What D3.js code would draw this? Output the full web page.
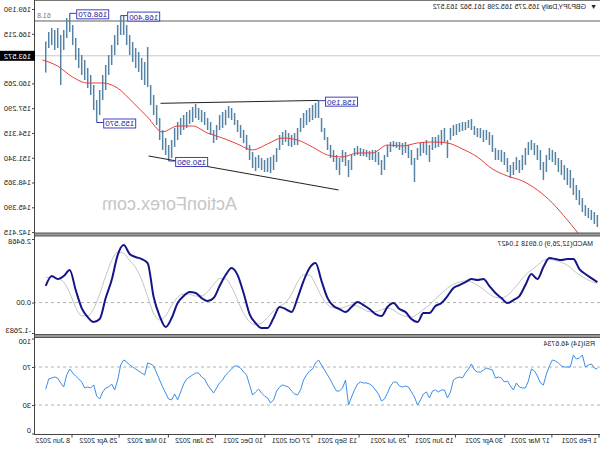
<!DOCTYPE html>
<html><head><meta charset="utf-8">
<script src="https://cdn.jsdelivr.net/npm/d3@7"></script>
<style>html,body{margin:0;padding:0;background:#fff;} svg{display:block;font-family:"Liberation Sans",Arial,sans-serif;}</style>
</head><body>
<svg id="chart" width="600" height="450"></svg>
<script>
// ---------- DATA (oldest first) ----------
const barStart = "2021-02-03", barEnd = "2022-07-03";
const priceHigh = [144.47,144.83,145.07,145.31,145.67,146.51,147.47,148.07,148.91,149.87,150.11,150.47,151.07,151.31,152.03,152.27,152.51,151.67,150.83,152.27,152.87,153.11,153.47,153.23,152.51,151.67,151.07,151.43,150.83,150.47,151.31,152.03,152.27,152.27,152.51,154.07,154.43,154.67,154.67,154.91,154.91,155.15,155.99,155.87,155.63,155.63,155.51,155.39,155.27,154.91,153.47,154.91,154.67,154.07,153.83,153.83,152.87,153.47,153.23,153.11,152.51,151.31,152.27,152.87,153.23,153.11,
153.23,153.23,153.35,153.23,152.87,151.67,151.07,152.03,152.27,152.27,152.15,152.27,152.39,152.51,152.75,152.51,151.67,151.07,152.03,152.27,151.31,151.67,152.27,152.87,153.83,154.91,156.11,158.19,157.91,157.67,157.31,157.07,156.71,156.11,154.91,154.31,154.07,154.31,154.67,154.43,154.07,152.51,151.67,151.43,151.31,151.07,151.31,151.67,151.43,152.03,152.87,154.07,154.67,155.27,155.87,156.71,157.31,157.55,157.07,156.83,156.47,155.27,154.67,155.63,156.11,156.83,157.07,
157.31,157.79,157.43,157.07,156.83,156.47,156.11,155.63,154.91,153.47,152.87,153.71,154.67,156.11,157.67,158.87,160.07,
164.63,162.83,163.31,164.03,164.51,165.23,166.07,167.27,168.35,168.40,167.27,166.07,164.87,163.67,162.47,161.27,159.47,158.27,160.07,161.27,162.11,163.07,163.67,164.51,165.71,167.27,168.67,168.11,166.67,166.07,166.91,166.67,166.91,166.43,165.30];
const priceLow = [143.03,143.39,143.87,144.11,144.35,144.83,145.67,146.27,146.87,147.71,148.07,148.67,149.27,149.63,150.47,150.83,151.07,149.63,148.67,149.87,151.07,151.67,152.27,151.67,150.47,149.87,149.51,149.87,149.27,148.91,149.63,150.47,150.83,151.07,151.07,152.03,152.87,153.47,153.23,153.71,153.83,154.07,154.67,154.91,154.67,154.55,154.43,154.07,153.95,153.47,151.31,153.23,152.87,152.63,152.51,152.27,150.83,151.67,151.91,151.55,151.07,148.43,150.47,151.31,151.91,151.67,
152.27,152.51,152.63,152.03,151.43,149.87,149.27,150.47,150.83,151.07,151.07,151.43,151.55,151.55,151.67,151.55,149.87,149.03,150.35,150.83,149.27,149.87,150.83,151.31,152.27,153.47,154.43,156.11,156.11,155.87,155.63,155.27,154.91,154.43,152.87,152.87,152.63,152.75,153.23,152.87,152.27,150.83,149.87,149.51,149.63,149.63,149.87,150.11,149.75,150.11,151.07,152.27,153.11,153.71,154.43,155.27,155.87,156.11,155.27,154.91,154.67,153.47,153.11,154.07,154.67,155.27,155.63,
155.87,156.11,155.63,155.39,154.91,154.67,154.07,153.47,152.63,151.31,150.95,151.67,152.27,153.47,155.27,156.47,157.67,
159.83,160.07,160.67,161.63,162.11,162.83,163.67,164.87,166.07,166.07,164.87,163.67,162.47,161.27,159.47,158.27,156.47,155.57,157.07,158.87,159.71,160.67,161.27,162.11,163.07,164.87,166.43,165.71,164.27,160.07,164.51,164.27,164.87,164.51,161.56];
const maStart = "2021-02-03", maEnd = "2022-07-06";
const maValues = [140.03,141.71,143.87,145.91,147.47,148.55,149.15,149.99,151.43,152.39,153.11,153.23,153.11,152.75,152.87,151.91,151.91,151.43,151.67,152.63,153.47,153.71,152.99,152.27,152.99,153.71,154.31,155.15,155.15,154.43,156.23,158.03,159.71,160.31,160.31,161.03,162.35,163.07];
const indStart = "2021-02-03", indEnd = "2022-07-03";
const macdMain = [0.854,1.020,1.187,1.395,1.812,1.812,1.770,1.812,1.853,1.479,0.979,1.187,0.729,0.271,0.104,-0.021,0.187,0.396,0.687,0.979,0.937,0.979,0.854,0.729,0.604,0.271,-0.021,-0.146,-0.437,-0.437,-0.812,-0.687,-0.396,-0.271,-0.021,-0.187,-0.562,-0.479,-0.271,-0.104,0.021,-0.187,-0.396,-0.271,-0.146,0.187,0.895,1.645,1.437,0.895,0.187,-0.396,-0.271,-0.187,-0.646,-1.062,-1.062,-0.854,-0.479,0.396,1.145,1.437,1.145,0.687,0.187,0.062,0.187,0.396,0.437,0.271,-0.021,-0.646,-1.020,-0.562,0.229,1.645,1.812,1.895,2.020,2.395,1.978,0.937,0.187,-0.687,-0.812,-0.604,-0.229,0.521,1.354,1.104,0.979,1.104,0.692];
const macdSignal = [0.80,0.88,1.00,1.15,1.35,1.55,1.68,1.75,1.80,1.75,1.55,1.35,1.15,0.85,0.55,0.30,0.20,0.22,0.35,0.55,0.72,0.85,0.90,0.85,0.76,0.60,0.38,0.15,-0.10,-0.28,-0.48,-0.60,-0.58,-0.48,-0.32,-0.24,-0.30,-0.38,-0.38,-0.28,-0.15,-0.10,-0.18,-0.24,-0.22,-0.08,0.25,0.75,1.15,1.15,0.85,0.35,0.00,-0.15,-0.35,-0.62,-0.85,-0.92,-0.80,-0.45,0.10,0.65,0.98,1.00,0.75,0.45,0.28,0.27,0.34,0.36,0.22,-0.12,-0.55,-0.72,-0.45,0.25,0.95,1.45,1.75,2.05,2.10,1.75,1.10,0.35,-0.25,-0.55,-0.55,-0.20,0.40,0.85,1.00,1.05,1.04];
const rsiValues = [67.9,68.9,73.2,72.1,70.0,82.6,79.5,78.4,82.6,70.0,70.0,70.0,71.1,74.2,76.3,77.4,71.1,62.6,51.1,53.2,60.5,65.8,67.9,55.3,47.9,47.9,48.9,53.2,45.8,50.0,55.3,54.2,58.4,59.5,58.4,66.8,67.9,68.9,66.8,64.7,64.7,66.8,73.2,67.9,63.7,58.4,59.5,58.4,56.3,43.7,37.4,45.8,45.8,43.7,45.8,44.7,37.4,43.7,41.6,35.3,30.0,38.4,43.7,48.9,50.0,48.9,50.0,54.2,54.2,50.0,42.6,36.3,34.2,41.6,45.8,50.0,52.1,53.2,53.2,54.2,52.1,45.8,38.4,30.0,56.3,47.9,44.7,44.7,50.0,56.3,61.6,66.8,72.1,77.4,74.2,67.9,65.8,61.6,56.3,45.8,40.5,41.6,44.7,48.9,50.0,51.1,48.9,44.7,35.3,32.1,37.4,39.5,42.6,46.8,43.7,40.5,51.1,61.6,64.7,68.9,71.1,71.1,67.9,64.7,61.6,56.3,53.2,47.9,42.6,46.8,51.1,57.4,59.5,63.7,63.7,61.6,59.5,57.4,52.1,43.7,35.3,41.6,35.3,36.3,42.6,48.9,56.3,63.7,71.1,73.2,74.2,61.6,63.7,65.8,67.9,70.0,72.1,75.3,77.4,72.1,56.3,45.8,52.1,48.9,47.9,43.7,36.3,39.5,51.1,47.9,48.9,47.9,54.2,57.4,60.5,63.7,67.9,61.6,48.9,53.2,58.4,59.5,58.4,57.4,46.7];

const priceTicks = [142.415,145.390,148.365,151.340,154.315,157.290,160.265,166.215,169.190];
const currentPrice = 163.572;
const fibLevel = 167.75, fibText = "61.8";
const macdTicks = [-1.2683, 0, 2.6468], macdTickLabels = ["-1.2683","0.00","2.6468"];
const rsiTicks = [0,30,70,100];
const dateTicks = ["2021-02-01","2021-03-17","2021-04-30","2021-06-15","2021-07-29","2021-09-13","2021-10-27","2021-12-10","2022-01-25","2022-03-10","2022-04-25","2022-06-08"];
const dateLabels = ["1 Feb 2021","17 Mar 2021","30 Apr 2021","15 Jun 2021","29 Jul 2021","13 Sep 2021","27 Oct 2021","10 Dec 2021","25 Jan 2022","10 Mar 2022","25 Apr 2022","8 Jun 2022"];
const labelTexts = ["168.670","168.400","155.570","150.950","158.190"];
const labelBars = [176,159,167,143,93];
const labelPrices = [168.67,168.40,155.57,150.95,158.19];
const trendUpper = [[93,158.22],[145.7,157.87]];
const trendLower = [[86.3,147.47],[149.7,151.55]];
const titleMain = "GBPJPY,Daily  165.275 165.298 161.562 163.572";
const titleMacd = "MACD(12,26,9) 0.6918 1.0427";
const titleRsi = "RSI(14) 46.6734";
const watermark = "ActionForex.com";

// ---------- SETUP ----------
const parse = d3.timeParse("%Y-%m-%d");
const svg = d3.select("#chart");
svg.append("rect").attr("width",600).attr("height",450).attr("fill","#fff");
// the reference is a mirrored MT4 chart: draw it normally, then flip horizontally
const g = svg.append("g").attr("transform","translate(600,0) scale(-1,1)");

const AX = 565;
const x = d3.scaleTime().domain([parse("2021-02-01"), parse("2022-06-08")]).range([0.5, 527.5]);
const yP = d3.scaleLinear().domain([142.415,169.19]).range([232.1, 9.0]);
const yM = d3.scaleLinear().domain([-1.2683, 2.6468]).range([333, 239]);
const yR = d3.scaleLinear().domain([0,100]).range([433.5,338.5]);

function spread(arr, d0, d1){ const a=parse(d0), b=parse(d1); return arr.map((v,i)=>({date:new Date(+a + i*(b-a)/(arr.length-1)), v})); }
const bS = parse(barStart), bE = parse(barEnd), bStep = (bE-bS)/(priceHigh.length-1);
const barDate = i => new Date(+bS + i*bStep);
const bars = priceHigh.map((h,i)=>({date:barDate(i), h, l:priceLow[i]}));

const defs = svg.append("defs");
[["cMain",0,1,AX,233],["cMacd",0,237,AX,97],["cRsi",0,338,AX,96]].forEach(c=>{
  defs.append("clipPath").attr("id",c[0]).append("rect").attr("x",c[1]).attr("y",c[2]).attr("width",c[3]).attr("height",c[4]);
});
const font = "Liberation Sans, Arial, sans-serif";

// ---------- MAIN PANEL ----------
const main = g.append("g").attr("clip-path","url(#cMain)");
main.append("text").attr("x",363).attr("y",210).attr("font-size",18).attr("fill","#c6c6c6").text(watermark);
main.append("line").attr("x1",0).attr("x2",AX).attr("y1",yP(currentPrice)).attr("y2",yP(currentPrice)).attr("stroke","#c8c8c8");
main.append("line").attr("x1",0).attr("x2",AX).attr("y1",yP(fibLevel)).attr("y2",yP(fibLevel)).attr("stroke","#606060");
main.append("text").attr("x",AX-2).attr("y",yP(fibLevel)-3).attr("text-anchor","end").attr("font-size",7).attr("fill","#777").text(fibText);

main.selectAll("line.bar").data(bars).join("line").attr("class","bar")
  .attr("x1",d=>x(d.date)).attr("x2",d=>x(d.date))
  .attr("y1",d=>yP(d.h)).attr("y2",d=>yP(d.l))
  .attr("stroke","#5583a6").attr("stroke-width",1.5);

const maLine = d3.line().x(d=>x(d.date)).y(d=>yP(d.v)).curve(d3.curveMonotoneX);
main.append("path").attr("d",maLine(spread(maValues,maStart,maEnd))).attr("fill","none").attr("stroke","#e8403a").attr("stroke-width",1);

[trendUpper, trendLower].forEach(t=>{
  main.append("line").attr("x1",x(barDate(t[0][0]))).attr("y1",yP(t[0][1]))
    .attr("x2",x(barDate(t[1][0]))).attr("y2",yP(t[1][1])).attr("stroke","#222").attr("stroke-width",1);
});
labelTexts.forEach((t,i)=>{
  const ax = x(barDate(labelBars[i])), ay = yP(labelPrices[i]);
  const bw = 32, bh = 9, right = ax-7;
  main.append("line").attr("x1",ax).attr("x2",right).attr("y1",ay).attr("y2",ay).attr("stroke","#3a3ab8");
  main.append("rect").attr("x",right-bw).attr("y",ay+1-bh/2).attr("width",bw).attr("height",bh)
    .attr("fill","#fff").attr("stroke","#4040c0").attr("stroke-width",1);
  main.append("text").attr("x",right-bw/2).attr("y",ay+4).attr("text-anchor","middle")
    .attr("font-size",8).attr("fill","#1c1c96").text(t);
});
g.append("text").attr("x",3).attr("y",9).attr("font-size",7).attr("fill","#222").text("\u25BC");
g.append("text").attr("x",14).attr("y",9).attr("font-size",7).attr("fill","#222").text(titleMain);

// ---------- MACD PANEL ----------
const mp = g.append("g").attr("clip-path","url(#cMacd)");
mp.append("line").attr("x1",0).attr("x2",AX).attr("y1",yM(0)).attr("y2",yM(0)).attr("stroke","#b0b0b0").attr("stroke-dasharray","3,3");
const mLine = d3.line().x(d=>x(d.date)).y(d=>yM(d.v)).curve(d3.curveMonotoneX);
mp.append("path").attr("d",mLine(spread(macdSignal,indStart,indEnd))).attr("fill","none").attr("stroke","#c4c4c4").attr("stroke-width",1);
mp.append("path").attr("d",mLine(spread(macdMain,indStart,indEnd))).attr("fill","none").attr("stroke","#15158a").attr("stroke-width",2);
g.append("text").attr("x",7).attr("y",246).attr("font-size",7).attr("fill","#222").text(titleMacd);

// ---------- RSI PANEL ----------
const rp = g.append("g").attr("clip-path","url(#cRsi)");
[30,70].forEach(v=>rp.append("line").attr("x1",0).attr("x2",AX).attr("y1",yR(v)).attr("y2",yR(v)).attr("stroke","#b0b0b0").attr("stroke-dasharray","3,3"));
const rLine = d3.line().x(d=>x(d.date)).y(d=>yR(d.v));
rp.append("path").attr("d",rLine(spread(rsiValues,indStart,indEnd))).attr("fill","none").attr("stroke","#3d8ee6").attr("stroke-width",1);
g.append("text").attr("x",5).attr("y",346).attr("font-size",7).attr("fill","#222").text(titleRsi);

// ---------- FRAMES ----------
const frame = g.append("g");
frame.append("line").attr("x1",0).attr("x2",AX).attr("y1",0.5).attr("y2",0.5).attr("stroke","#777");
[[233,236],[334.5,337.5]].forEach(s=>{
  frame.append("rect").attr("x",0).attr("y",s[0]).attr("width",AX).attr("height",s[1]-s[0]).attr("fill","#9a9a9a");
  frame.append("line").attr("x1",0).attr("x2",AX).attr("y1",s[0]).attr("y2",s[0]).attr("stroke","#555");
  frame.append("line").attr("x1",0).attr("x2",AX).attr("y1",s[1]).attr("y2",s[1]).attr("stroke","#555");
});
frame.append("line").attr("x1",0).attr("x2",AX+1).attr("y1",434.5).attr("y2",434.5).attr("stroke","#444");
frame.append("line").attr("x1",AX+0.5).attr("x2",AX+0.5).attr("y1",0).attr("y2",435).attr("stroke","#444");

// ---------- AXES ----------
function styleAxis(sel){ sel.select(".domain").remove(); sel.selectAll("text").attr("font-size",7.5).attr("fill","#222").attr("font-family",font); sel.selectAll(".tick line").attr("stroke","#444"); }
const pAx = g.append("g").attr("transform",`translate(${AX},0)`)
  .call(d3.axisRight(yP).tickValues(priceTicks).tickFormat(d3.format(".3f")).tickSize(3).tickPadding(1));
styleAxis(pAx);
const cp = g.append("g");
cp.append("rect").attr("x",AX).attr("y",yP(currentPrice)-5).attr("width",35).attr("height",10).attr("fill","#000");
cp.append("text").attr("x",AX+4).attr("y",yP(currentPrice)+3).attr("font-size",7.5).attr("fill","#fff").text(d3.format(".3f")(currentPrice));

const mAx = g.append("g").attr("transform",`translate(${AX},0)`)
  .call(d3.axisRight(yM).tickValues(macdTicks).tickFormat((d,i)=>macdTickLabels[i]).tickSize(3).tickPadding(1));
styleAxis(mAx);
mAx.selectAll(".tick text").attr("dy",(d)=> d===macdTicks[2] ? "0.62em" : d===macdTicks[0] ? "-0.1em" : "0.32em");

const rAx = g.append("g").attr("transform",`translate(${AX},0)`)
  .call(d3.axisRight(yR).tickValues(rsiTicks).tickSize(3).tickPadding(1));
styleAxis(rAx);
rAx.selectAll(".tick text").attr("dy",(d)=> d===100 ? "0.72em" : d===0 ? "-0.2em" : "0.32em");

const dAx = g.append("g").attr("transform","translate(0,434.5)")
  .call(d3.axisBottom(x).tickValues(dateTicks.map(parse)).tickFormat((d,i)=>dateLabels[i]).tickSize(3));
styleAxis(dAx);
dAx.selectAll(".tick text").attr("text-anchor","start").attr("x",2).attr("y",4).attr("dy","0.71em").attr("font-size",7);
</script>
</body></html>
